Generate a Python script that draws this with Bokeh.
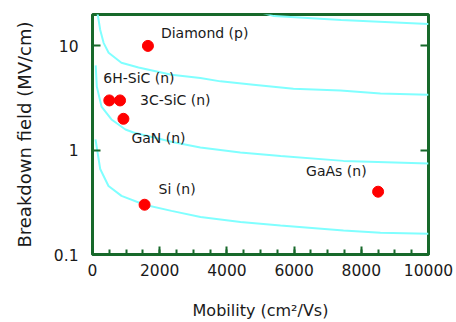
from bokeh.plotting import figure
from bokeh.models import (SingleIntervalTicker, FixedTicker, LogAxis,
                          BasicTickFormatter, Label)
from bokeh.embed import file_html
from bokeh.resources import INLINE

# ---- data ----
materials = ["Diamond (p)", "6H-SiC (n)", "3C-SiC (n)", "GaN (n)", "Si (n)", "GaAs (n)"]
mobility = [1650, 500, 820, 920, 1550, 8500]          # cm^2/Vs
breakdown = [10, 3, 3, 2, 0.3, 0.4]                  # MV/cm

curve1_mobility = [5000, 5400, 7400, 10000]
curve1_field = [21, 19.3, 17.7, 16.2]

curve2_mobility = [150, 230, 330, 480, 860, 1370, 2350, 3210, 3810, 4790, 5980, 7380, 8570, 10000]
curve2_field = [20.5, 14.2, 10.7, 8.6, 6.9, 6.2, 5.3, 4.92, 4.57, 4.25, 3.89, 3.73, 3.49, 3.41]

curve3_mobility = [95, 128, 268, 565, 980, 1220, 2410, 3210, 4400, 5600, 7470, 10000]
curve3_field = [6.5, 4.07, 2.62, 1.97, 1.58, 1.48, 1.19, 1.06, 0.95, 0.88, 0.79, 0.747]

curve4_mobility = [89, 229, 476, 863, 1548, 2351, 3214, 4405, 5595, 7470, 8571, 10000]
curve4_field = [1.27, 0.66, 0.454, 0.365, 0.30, 0.262, 0.229, 0.205, 0.190, 0.170, 0.162, 0.158]

x_range = (0, 10000)
y_range = (0.1, 20)
y_ticks = [0.1, 1, 10]
y_tick_labels = ["0.1", "1", "10"]

# ---- styling ----
GREEN = "#17692a"
CYAN = "#80ffff"
TEXT = "#1a1a1a"
FONT = "DejaVu Sans"

p = figure(width=456, height=322, x_range=x_range, y_range=y_range,
           y_axis_type="log", output_backend="svg", toolbar_location=None,
           min_border_left=92, min_border_right=28, min_border_top=14,
           min_border_bottom=67, background_fill_color="white",
           border_fill_color="white")

p.outline_line_color = GREEN
p.outline_line_width = 3
p.xgrid.visible = False
p.ygrid.visible = False

# x axis
p.xaxis.ticker = SingleIntervalTicker(interval=2000, num_minor_ticks=4)
p.xaxis.formatter = BasicTickFormatter(use_scientific=False)
p.xaxis.axis_label = "Mobility (cm²/Vs)"
# y axis
p.yaxis.ticker = FixedTicker(ticks=y_ticks)
p.yaxis.formatter = BasicTickFormatter(use_scientific=False)
p.yaxis.major_label_overrides = dict(zip(y_ticks, y_tick_labels))
p.yaxis.axis_label = "Breakdown field (MV/cm)"

for ax in (p.xaxis, p.yaxis):
    ax.axis_line_color = None
    ax.major_tick_line_color = GREEN
    ax.major_tick_line_width = 2
    ax.minor_tick_line_color = GREEN
    ax.minor_tick_line_width = 2
    ax.major_tick_out = 0
    ax.minor_tick_out = 0
    ax.major_label_text_font = FONT
    ax.major_label_text_font_size = "15.5px"
    ax.major_label_text_color = TEXT
    ax.axis_label_text_font = FONT
    ax.axis_label_text_font_style = "normal"
    ax.axis_label_text_color = TEXT

p.xaxis.major_tick_in = 8
p.xaxis.minor_tick_in = 5
p.xaxis.major_label_standoff = 9
p.xaxis.axis_label_text_font_size = "16px"
p.xaxis.axis_label_standoff = 22

p.yaxis.major_tick_in = 8
p.yaxis.minor_tick_line_color = None
p.yaxis.major_label_standoff = 14
p.yaxis.axis_label_text_font_size = "18px"
p.yaxis.axis_label_standoff = 16

right = LogAxis(ticker=FixedTicker(ticks=y_ticks), axis_line_color=None,
                major_tick_line_color=GREEN, major_tick_line_width=2,
                major_tick_in=8, major_tick_out=0, minor_tick_line_color=None,
                major_label_text_font_size="8px", major_label_text_color=None,
                major_label_standoff=0)
p.add_layout(right, "right")

# curves
for xs, ys in ((curve1_mobility, curve1_field), (curve2_mobility, curve2_field),
               (curve3_mobility, curve3_field), (curve4_mobility, curve4_field)):
    p.line(xs, ys, line_color=CYAN, line_width=2)

# points
p.scatter(mobility, breakdown, size=11, fill_color="#ff0000", line_color="#ff0000")

# labels (pixel offsets from each point: right, down)
offsets = {
    "Diamond (p)": (13, -13),
    "6H-SiC (n)": (-6, -22),
    "3C-SiC (n)": (20, 0),
    "GaN (n)": (8, 19),
    "Si (n)": (14, -16),
    "GaAs (n)": (-72, -21),
}
for name, mx, fy in zip(materials, mobility, breakdown):
    dx, dy = offsets[name]
    p.add_layout(Label(x=mx, y=fy, text=name, x_offset=dx, y_offset=-dy,
                       text_baseline="middle", text_align="left",
                       text_font=FONT, text_font_size="14px", text_color=TEXT))

open("out.html", "w").write(file_html(p, INLINE))
